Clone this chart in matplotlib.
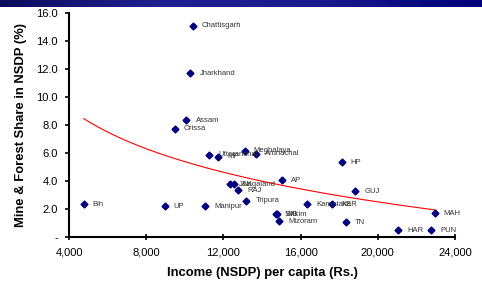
import numpy as np
import matplotlib
matplotlib.use('Agg')
import matplotlib.pyplot as plt
from matplotlib.colors import LinearSegmentedColormap
from matplotlib.ticker import FuncFormatter, MultipleLocator

plt.rcParams['font.family'] = ['Liberation Sans', 'DejaVu Sans']

# states, income per capita (Rs.), mine & forest share (%)
states = ['Bih', 'UP', 'Orissa', 'Assam', 'Jharkhand', 'Chattisgarh', 'Manipur',
          'Uttaranchal', 'MP', 'J&K', 'Nagaland', 'RAJ', 'Meghalaya', 'Tripura',
          'Arunachal', 'Sikkim', 'WB', 'Mizoram', 'AP', 'Karnataka', 'KER', 'HP',
          'TN', 'GUJ', 'HAR', 'PUN', 'MAH']
income = [4760, 8964, 9481, 10086, 10293, 10412, 11068,
          11275, 11740, 12345, 12530, 12775, 13100, 13188,
          13669, 14724, 14790, 14879, 15050, 16327, 17650, 18137,
          18343, 18824, 21063, 22754, 22945]
share = [2.34, 2.22, 7.73, 8.33, 11.68, 15.07, 2.22,
         5.86, 5.72, 3.79, 3.79, 3.34, 6.17, 2.58,
         5.93, 1.65, 1.65, 1.15, 4.05, 2.34, 2.34, 5.34,
         1.08, 3.27, 0.51, 0.51, 1.70]

x = np.array(income, dtype=float)
y = np.array(share, dtype=float)

# logarithmic trend line (like Excel)
b, a = np.polyfit(np.log(x), y, 1)
xt = np.linspace(x.min(), x.max(), 200)
yt = a + b * np.log(xt)

fig = plt.figure(figsize=(4.82, 2.83), dpi=100)

# navy banner at the top
band = fig.add_axes([0, 1 - 7 / 283, 1, 7 / 283])
cmap = LinearSegmentedColormap.from_list('band', ['#0c0c5c', '#202090', '#1a1a8c', '#000078'])
band.imshow(np.linspace(0, 1, 256)[None, :], aspect='auto', cmap=cmap)
band.axis('off')

ax = fig.add_axes([69 / 482, 1 - 237.2 / 283, (455 - 69) / 482, (237.2 - 12.7) / 283])
ax.plot(xt, yt, color='red', lw=0.8, zorder=2)
ax.plot(x, y, 'D', color='#000080', ms=3.5, zorder=3)

for s, xi, yi in zip(states, x, y):
    ax.annotate(s, (xi, yi), xytext=(6.5, 0), textcoords='offset points',
                ha='left', va='center', fontsize=5.5, color='#333333')

ax.set_xlim(4000, 24000)
ax.set_ylim(0, 16)
ax.xaxis.set_major_locator(MultipleLocator(4000))
ax.yaxis.set_major_locator(MultipleLocator(2))
ax.xaxis.set_major_formatter(FuncFormatter(lambda v, p: f'{v:,.0f}'))
ax.yaxis.set_major_formatter(FuncFormatter(lambda v, p: '-' if v == 0 else f'{v:.1f}'))

for side in ['top', 'right']:
    ax.spines[side].set_visible(False)
for side in ['left', 'bottom']:
    ax.spines[side].set_linewidth(1.5)
ax.tick_params(axis='y', direction='out', length=3, width=1.2, labelsize=8, pad=5)
ax.tick_params(axis='x', direction='inout', length=5, width=1.2, labelsize=8, pad=5)

ax.set_xlabel('Income (NSDP) per capita (Rs.)', fontsize=9.4, fontweight='bold', labelpad=7)
ax.set_ylabel('Mine & Forest Share in NSDP (%)', fontsize=9.4, fontweight='bold', labelpad=7)

fig.savefig('out.png', dpi=100)
